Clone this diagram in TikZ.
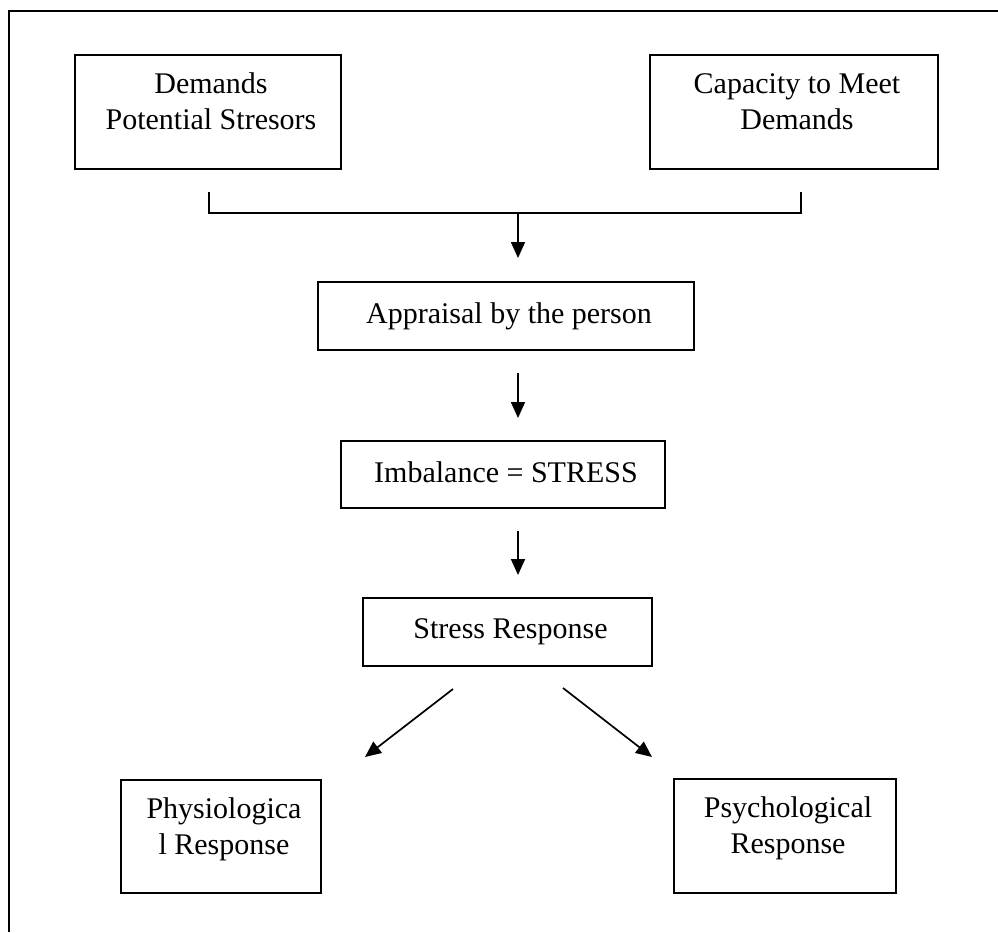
\documentclass[tikz,border=0pt]{standalone}
\usepackage{fontspec}
\setmainfont{Liberation Serif}
\usetikzlibrary{arrows.meta}
\newcommand\boxtxt[4]{\parbox[c][#2][t]{#1}{\vspace*{#3}\centering\leftskip=6pt plus 1fil\strut #4}}
\begin{document}
\begin{tikzpicture}[x=1pt,y=-1pt,
  bx/.style={draw, line width=1.9pt, inner sep=0pt, font=\fontsize{30}{36}\selectfont},
  arr/.style={line width=1.7pt, -{Triangle[length=16pt,width=14pt]}},
  ln/.style={line width=1.7pt}]
\useasboundingbox (0,0) rectangle (998,932);
\draw[line width=1.4pt] (9,932) -- (9,11) -- (998,11);
% boxes
\node[bx] (dem) at (208,112) {\boxtxt{266pt}{114pt}{12.8pt}{Demands\\Potential Stresors}};
\node[bx] (cap) at (794,112) {\boxtxt{288pt}{114pt}{12.8pt}{Capacity to Meet\\Demands}};
\node[bx] (app) at (506,316) {\boxtxt{376pt}{68pt}{15.8pt}{Appraisal by the person}};
\node[bx] (imb) at (503,474.5) {\boxtxt{324pt}{67pt}{15.8pt}{Imbalance = STRESS}};
\node[bx] (sr) at (507.5,632) {\boxtxt{289pt}{68pt}{14.8pt}{Stress Response}};
\node[bx] (phy) at (221,836.5) {\boxtxt{200pt}{113pt}{12.8pt}{Physiologica\\l Response}};
\node[bx] (psy) at (785,836) {\boxtxt{222pt}{114pt}{12.8pt}{Psychological\\Response}};
% bracket
\coordinate (bl) at (209,192);
\coordinate (blb) at (209,213);
\coordinate (brb) at (801,213);
\coordinate (br) at (801,192);
\coordinate (a1s) at (518,213);
\coordinate (a1e) at (518,258);
\draw[ln] (bl) -- (blb) -- (brb) -- (br);
\draw[arr] (a1s) -- (a1e);
% vertical arrows
\coordinate (a2s) at (518,373);
\coordinate (a2e) at (518,418);
\draw[arr] (a2s) -- (a2e);
\coordinate (a3s) at (518,531);
\coordinate (a3e) at (518,575);
\draw[arr] (a3s) -- (a3e);
% diagonal arrows
\coordinate (dls) at (453,689);
\coordinate (dle) at (365,757);
\draw[arr] (dls) -- (dle);
\coordinate (drs) at (563,688);
\coordinate (dre) at (652,757);
\draw[arr] (drs) -- (dre);
\end{tikzpicture}
\end{document}
